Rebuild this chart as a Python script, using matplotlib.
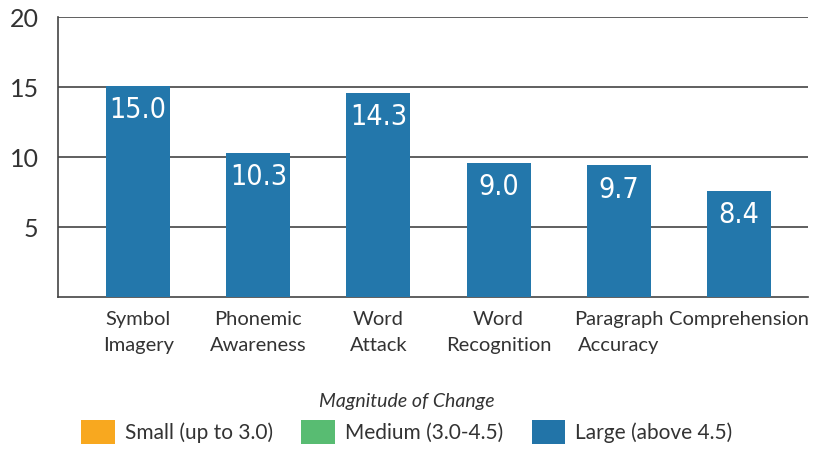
import matplotlib.pyplot as plt
from matplotlib.patches import Patch

categories = ["Symbol\nImagery", "Phonemic\nAwareness", "Word\nAttack",
              "Word\nRecognition", "Paragraph\nAccuracy", "Comprehension"]
heights = [15.1, 10.3, 14.6, 9.6, 9.4, 7.6]
labels = ["15.0", "10.3", "14.3", "9.0", "9.7", "8.4"]
yticks = [5, 10, 15, 20]
legend_names = ["Small (up to 3.0)", "Medium (3.0-4.5)", "Large (above 4.5)"]
legend_colors = ["#F8A81F", "#58BC72", "#2274A8"]

txt = "#333333"
fig = plt.figure(figsize=(8.14, 4.49), dpi=100)
ax = fig.add_axes([0.0713, 0.3385, 0.9213, 0.6236])

x = list(range(len(categories)))
bars = ax.bar(x, heights, width=0.533, color="#2377AB", zorder=3)
for b, lab in zip(bars, labels):
    ax.annotate(lab, (b.get_x() + b.get_width() / 2, b.get_height()),
                xytext=(0, -7.5), textcoords="offset points", ha="center", va="top",
                color="white", fontsize=20.5, fontstretch="condensed",
                family=["DejaVu Sans"], zorder=4)

ax.set_xlim(-0.667, 5.575)
ax.set_ylim(0, 20)
ax.set_yticks(yticks)
ax.set_yticklabels([str(t) for t in yticks], fontsize=18, color=txt, family="Lato")
ax.set_xticks(x)
ax.set_xticklabels(categories, fontsize=14.5, color=txt, family="Lato", linespacing=1.65)
ax.tick_params(axis="both", length=0)
ax.tick_params(axis="y", pad=14)
ax.tick_params(axis="x", pad=10)
ax.yaxis.grid(True, color="#444444", linewidth=1.2, zorder=0)
for s in ["top", "right"]:
    ax.spines[s].set_visible(False)
for s in ["left", "bottom"]:
    ax.spines[s].set_color("#444444")
    ax.spines[s].set_linewidth(1.2)

handles = [Patch(facecolor=c, edgecolor="none") for c in legend_colors]
leg = fig.legend(handles, legend_names, loc="lower center", bbox_to_anchor=(0.5, -0.03),
                 ncol=3, frameon=False, handlelength=1.6, handleheight=1.35,
                 columnspacing=1.35, handletextpad=0.5,
                 prop={"family": "Lato", "size": 15},
                 title="Magnitude of Change",
                 title_fontproperties={"family": "Lato", "size": 14, "style": "italic"})
for t in leg.get_texts():
    t.set_color(txt)
leg.get_title().set_color(txt)

fig.savefig("out.png", dpi=100)
